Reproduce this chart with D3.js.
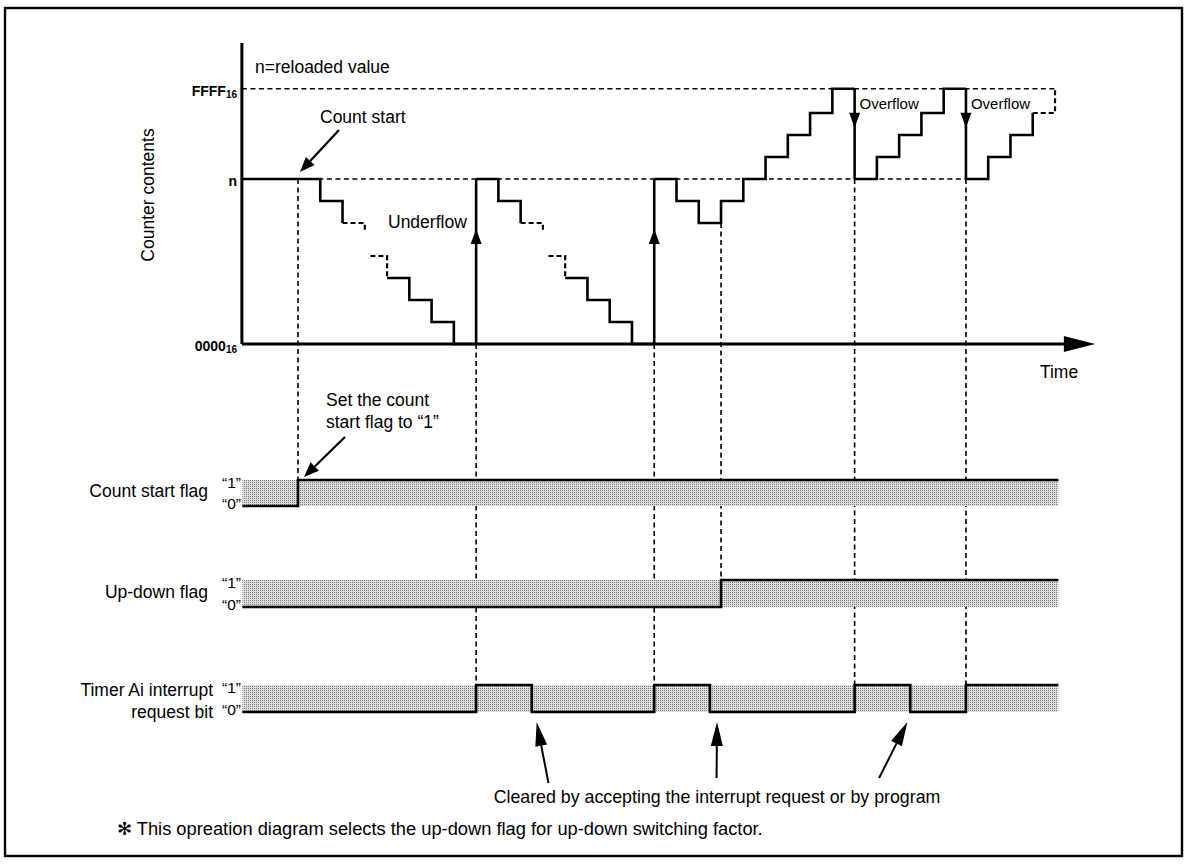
<!DOCTYPE html>
<html><head><meta charset="utf-8">
<script src="https://cdn.jsdelivr.net/npm/d3@7"></script>
<style>
body{margin:0;background:#fff}
svg{display:block}
text{font-family:"Liberation Sans",Arial,Helvetica,sans-serif;fill:#000}
</style>
</head><body>
<svg id="c" width="1187" height="866"></svg>
<script>
// ---------- data ----------
const N = 7.5;      // reload value level
const F = 11.6;     // FFFF16 level
const levelLabels = ["0000", "n", "FFFF"];
const levelSubs   = ["16", "", "16"];
const levelValues = [0, N, F];

// counter contents trace: [time, value]
const traceSolid = [
  [[-0.52, N], [3, N], [3, N - 1], [4, N - 1], [4, N - 2]],
  [[6, 3], [7, 3], [7, 2], [8, 2], [8, 1], [9, 1], [9, 0], [10, 0]],
  [[10, N], [11, N], [11, N - 1], [12, N - 1], [12, N - 2]],
  [[14, 3], [15, 3], [15, 2], [16, 2], [16, 1], [17, 1], [17, 0], [18, 0]],
  [[18, N], [19, N], [19, N - 1], [20, N - 1], [20, N - 2], [21, N - 2], [21, N - 1], [22, N - 1],
   [22, N], [23, N], [23, N + 1], [24, N + 1], [24, N + 2], [25, N + 2], [25, N + 3], [26, N + 3],
   [26, F], [27, F]],
  [[27, N], [28, N], [28, N + 1], [29, N + 1], [29, N + 2], [30, N + 2], [30, N + 3], [31, N + 3],
   [31, F], [32, F]],
  [[32, N], [33, N], [33, N + 1], [34, N + 1], [34, N + 2], [35, N + 2], [35, N + 3]]
];
const traceDashed = [
  [[4, N - 2], [5, N - 2], [5, N - 2.4]],
  [[5.25, 4], [6, 4], [6, 3]],
  [[12, N - 2], [13, N - 2], [13, N - 2.4]],
  [[13.25, 4], [14, 4], [14, 3]],
  [[35, N + 3], [36, N + 3], [36, F]]
];
const underflowTimes = [10, 18];
const overflowTimes  = [27, 32];

// flags: [time, state]
const countStartFlag = [[-0.5, 0], [2, 1], [36.15, 1]];
const upDownFlag     = [[-0.5, 0], [21, 1], [36.15, 1]];
const interruptBit   = [[-0.5, 0], [10, 1], [12.5, 0], [18, 1], [20.5, 0], [27, 1], [29.5, 0], [32, 1], [36.15, 1]];
const flagNames = [["Count start flag"], ["Up-down flag"], ["Timer Ai interrupt", "request bit"]];

// vertical guide lines: [time, from level (counter), to flag index]
const guideTimes  = [2, 10, 18, 21, 27, 32];
const guideFrom   = [N, 0, 0, N - 2, N, N];
const guideToFlag = [0, 2, 2, 1, 2, 2];

// interrupt-clear pointer arrows: tip time, tail time
const clearTips  = [12.72, 20.82, 29.37];
const clearTails = [13.25, 20.8, 28.1];

// ---------- drawing ----------
const svg = d3.select("#c");
const x = d3.scaleLinear().domain([2, 36]).range([298, 1055]);
const y = d3.scaleLinear().domain([0, F]).range([344, 88.8]);
const flagBands = [[506, 480], [607, 580], [712, 685]];
const flagY = flagBands.map(b => d3.scaleLinear().domain([0, 1]).range(b));

const defs = svg.append("defs");
const pat = defs.append("pattern").attr("id", "dots").attr("width", 2).attr("height", 2)
  .attr("patternUnits", "userSpaceOnUse");
pat.append("rect").attr("width", 2).attr("height", 2).attr("fill", "#dedede");
pat.append("rect").attr("width", 1).attr("height", 1).attr("fill", "#7a7a7a");

// frame
svg.append("rect").attr("x", 5).attr("y", 8).attr("width", 1177).attr("height", 848)
  .attr("fill", "none").attr("stroke", "#000").attr("stroke-width", 2.4);

function arrow(x1, y1, x2, y2, L, W, sw) {
  const dx = x2 - x1, dy = y2 - y1, len = Math.hypot(dx, dy);
  const ux = dx / len, uy = dy / len;
  const bx = x2 - ux * L, by = y2 - uy * L;
  svg.append("line").attr("x1", x1).attr("y1", y1).attr("x2", bx).attr("y2", by)
    .attr("stroke", "#000").attr("stroke-width", sw);
  svg.append("path").attr("d", `M${x2},${y2}L${bx - uy * W},${by + ux * W}L${bx + uy * W},${by - ux * W}Z`)
    .attr("fill", "#000");
}

const dash = "5,3.5";
// reference dashed lines
svg.append("line").attr("x1", x(-0.52)).attr("x2", x(36)).attr("y1", y(F)).attr("y2", y(F))
  .attr("stroke", "#000").attr("stroke-width", 1.6).attr("stroke-dasharray", dash);
svg.append("line").attr("x1", x(-0.52)).attr("x2", x(32)).attr("y1", y(N)).attr("y2", y(N))
  .attr("stroke", "#000").attr("stroke-width", 1.6).attr("stroke-dasharray", dash);

// guide verticals
guideTimes.forEach((t, i) => {
  svg.append("line").attr("x1", x(t)).attr("x2", x(t))
    .attr("y1", y(guideFrom[i])).attr("y2", flagY[guideToFlag[i]](1))
    .attr("stroke", "#000").attr("stroke-width", 1.6).attr("stroke-dasharray", dash);
});

// flag bands and signals
const stepLine = d3.line().curve(d3.curveStepAfter);
[countStartFlag, upDownFlag, interruptBit].forEach((fl, i) => {
  const fy = flagY[i];
  svg.append("rect").attr("x", x(fl[0][0])).attr("y", fy(1))
    .attr("width", x(fl[fl.length - 1][0]) - x(fl[0][0])).attr("height", fy(0) - fy(1))
    .attr("fill", "url(#dots)");
  svg.append("path").attr("d", stepLine.x(d => x(d[0])).y(d => fy(d[1]))(fl))
    .attr("fill", "none").attr("stroke", "#000").attr("stroke-width", 2.6);
  svg.append("text").attr("x", 241).attr("y", fy(1) + 2).attr("text-anchor", "end")
    .attr("dominant-baseline", "central").style("font-size", "15.5px").text("\u201C1\u201D");
  svg.append("text").attr("x", 241).attr("y", fy(0) - 3).attr("text-anchor", "end")
    .attr("dominant-baseline", "central").style("font-size", "15.5px").text("\u201C0\u201D");
  const names = flagNames[i];
  names.forEach((nm, k) => {
    const cy = names.length === 1 ? (fy(0) + fy(1)) / 2 - 2 : fy(1) + 5 + k * 22;
    svg.append("text").attr("x", names.length === 1 ? 208 : 213).attr("y", cy)
      .attr("text-anchor", "end").attr("dominant-baseline", "central")
      .style("font-size", "17.5px").text(nm);
  });
});

// counter trace
const line = d3.line().x(d => x(d[0])).y(d => y(d[1]));
traceSolid.forEach(s => svg.append("path").attr("d", line(s)).attr("fill", "none")
  .attr("stroke", "#000").attr("stroke-width", 2.6).attr("stroke-linejoin", "miter"));
traceDashed.forEach(s => svg.append("path").attr("d", line(s)).attr("fill", "none")
  .attr("stroke", "#000").attr("stroke-width", 2.2).attr("stroke-dasharray", "5,3"));

// underflow / overflow arrows
underflowTimes.forEach(t => {
  const xx = x(t);
  svg.append("line").attr("x1", xx).attr("x2", xx).attr("y1", y(0)).attr("y2", y(N))
    .attr("stroke", "#000").attr("stroke-width", 2.6);
  const tip = y(N) + 50;
  svg.append("path").attr("d", `M${xx},${tip}L${xx - 5.5},${tip + 15}L${xx + 5.5},${tip + 15}Z`).attr("fill", "#000");
});
overflowTimes.forEach(t => {
  const xx = x(t);
  svg.append("line").attr("x1", xx).attr("x2", xx).attr("y1", y(F)).attr("y2", y(N))
    .attr("stroke", "#000").attr("stroke-width", 2.6);
  const tip = y(F) + 39;
  svg.append("path").attr("d", `M${xx},${tip}L${xx - 5.5},${tip - 15}L${xx + 5.5},${tip - 15}Z`).attr("fill", "#000");
});

// axes
svg.append("line").attr("x1", x(-0.52)).attr("x2", x(-0.52)).attr("y1", 43).attr("y2", y(0))
  .attr("stroke", "#000").attr("stroke-width", 3);
svg.append("line").attr("x1", x(-0.52)).attr("x2", x(36.45)).attr("y1", y(0)).attr("y2", y(0))
  .attr("stroke", "#000").attr("stroke-width", 3);
svg.append("path").attr("d", `M${x(37.8)},${y(0)}L${x(36.4)},${y(0) - 8}L${x(36.4)},${y(0) + 8}Z`).attr("fill", "#000");

// level labels
levelValues.forEach((v, i) => {
  const t = svg.append("text").attr("x", 237).attr("y", y(v) + 2).attr("text-anchor", "end")
    .attr("dominant-baseline", "central").style("font-size", "14px").style("font-weight", "bold");
  t.append("tspan").text(levelLabels[i]);
  if (levelSubs[i]) t.append("tspan").attr("dy", 3).style("font-size", "10px").text(levelSubs[i]);
});

// text labels
svg.append("text").attr("transform", "translate(148,195) rotate(-90)").attr("text-anchor", "middle")
  .attr("dominant-baseline", "central").style("font-size", "17.5px").text("Counter contents");
svg.append("text").attr("x", 255).attr("y", 67).attr("dominant-baseline", "central")
  .style("font-size", "17.5px").text("n=reloaded value");
svg.append("text").attr("x", 320).attr("y", 117).attr("dominant-baseline", "central")
  .style("font-size", "17.5px").text("Count start");
svg.append("text").attr("x", 388).attr("y", 222).attr("dominant-baseline", "central")
  .style("font-size", "17.5px").text("Underflow");
overflowTimes.forEach(t => svg.append("text").attr("x", x(t) + 5).attr("y", 103)
  .attr("dominant-baseline", "central").style("font-size", "15px").text("Overflow"));
svg.append("text").attr("x", 1059).attr("y", 372).attr("text-anchor", "middle")
  .attr("dominant-baseline", "central").style("font-size", "17.5px").text("Time");
svg.append("text").attr("x", 326).attr("y", 400).attr("dominant-baseline", "central")
  .style("font-size", "17.5px").text("Set the count");
svg.append("text").attr("x", 326).attr("y", 422).attr("dominant-baseline", "central")
  .style("font-size", "17.5px").text("start flag to \u201C1\u201D");
svg.append("text").attr("x", 717).attr("y", 797).attr("text-anchor", "middle")
  .attr("dominant-baseline", "central").style("font-size", "17.8px")
  .text("Cleared by accepting the interrupt request or by program");
svg.append("text").attr("x", 117).attr("y", 828).attr("dominant-baseline", "central")
  .style("font-size", "18.3px")
  .text("\u273B This opreation diagram selects the up-down flag for up-down switching factor.");

// pointer arrows
arrow(339, 130, x(2) + 2, 172, 15, 6, 2.2);
arrow(345, 437, x(2) + 6, 477, 15, 6, 2.2);
clearTips.forEach((t, i) => {
  const tailY = i === 0 ? 783 : 778;
  arrow(x(clearTails[i]), tailY, x(t), 722, 24, 6, 2);
});
</script>
</body></html>
